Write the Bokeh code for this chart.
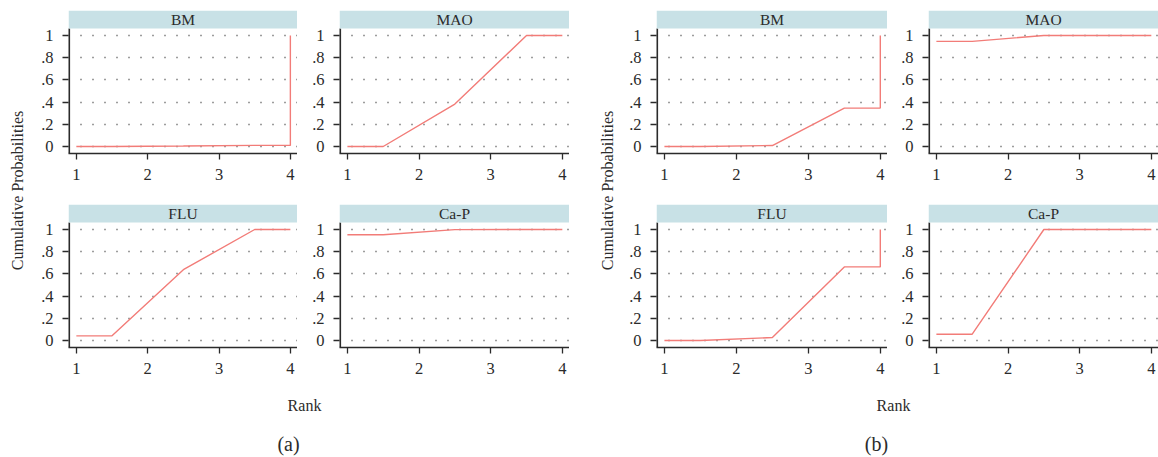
import math
from bokeh.plotting import figure
from bokeh.layouts import row, column
from bokeh.models import Range1d, FixedTicker, CustomJSTickFormatter, Label, BoxAnnotation
from bokeh.embed import file_html
from bokeh.resources import INLINE

# ---------------- data ----------------
ranks = [1, 2, 3, 4]
x_ticks = [1, 2, 3, 4]
y_ticks = [0, 0.2, 0.4, 0.6, 0.8, 1]
treatments = ["BM", "MAO", "FLU", "Ca-P"]

# cumulative ranking probabilities (rank 1..4), panel (a)
a_BM = [0.0, 0.004, 0.01, 1.0]
a_MAO = [0.0, 0.382, 1.0, 1.0]
a_FLU = [0.042, 0.638, 1.0, 1.0]
a_CaP = [0.953, 0.999, 1.0, 1.0]

# panel (b)
b_BM = [0.0, 0.009, 0.346, 1.0]
b_MAO = [0.947, 1.0, 1.0, 1.0]
b_FLU = [0.0, 0.027, 0.663, 1.0]
b_CaP = [0.057, 1.0, 1.0, 1.0]

y_title = "Cumulative Probabilities"
x_title = "Rank"
group_letters = ["(a)", "(b)"]

# ---------------- style ----------------
FONT = "Liberation Serif"
STRIP = "#c8e1e6"
LINE = "#f27c78"
AXIS = "#2b2b2b"
TXT = "#2b2b2b"
PAGE_H = 457
STRIP_H = 18
FRAME_H = 125
X_LO, X_HI = 0.89, 4.1
Y_LO, Y_HI = -0.063, 1.063
PX_PER_Y = FRAME_H / (Y_HI - Y_LO)
Y_STRIP = Y_HI + STRIP_H / PX_PER_Y


def base_fig(width, height, xr, yr, **kw):
    return figure(width=width, height=height, x_range=xr, y_range=yr,
                  output_backend="svg", toolbar_location=None, title=None,
                  outline_line_color=None, **kw)


def step_path(cum):
    xs = [ranks[0], ranks[0] + 0.5, ranks[1] + 0.5, ranks[2] + 0.5, ranks[3], ranks[3]]
    ys = [cum[0], cum[0], cum[1], cum[2], cum[2], cum[3]]
    return xs, ys


def panel_fig(name, cum, bl, fw, bt, bb):
    p = base_fig(bl + fw, bt + STRIP_H + FRAME_H + bb,
                 Range1d(X_LO, X_HI), Range1d(Y_LO, Y_STRIP),
                 min_border_left=bl, min_border_right=0,
                 min_border_top=bt, min_border_bottom=bb)
    p.xaxis.ticker = FixedTicker(ticks=x_ticks)
    p.yaxis.ticker = FixedTicker(ticks=y_ticks)
    p.yaxis.formatter = CustomJSTickFormatter(code="""
        if (Math.abs(tick) < 1e-9) return '0';
        if (Math.abs(tick - 1) < 1e-9) return '1';
        return tick.toFixed(1).replace('0.', '.');
    """)
    for ax in (p.xaxis, p.yaxis):
        ax.axis_line_color = AXIS
        ax.axis_line_width = 1.6
        ax.major_tick_line_color = AXIS
        ax.major_tick_line_width = 1.3
        ax.major_tick_out = 6
        ax.major_tick_in = 0
        ax.minor_tick_line_color = None
        ax.major_label_text_font = FONT
        ax.major_label_text_font_size = "16.5px"
        ax.major_label_text_color = TXT
    # the left axis line must stop below the strip: draw it as a segment
    p.yaxis.axis_line_color = None
    p.segment(x0=[X_LO], y0=[Y_LO], x1=[X_LO], y1=[Y_HI],
              line_color=AXIS, line_width=3.2)
    p.yaxis.major_label_standoff = 9
    p.xaxis.major_label_standoff = 9
    p.xgrid.visible = False
    p.ygrid.grid_line_color = "#3a3a3a"
    p.ygrid.grid_line_width = 1.3
    p.ygrid.grid_line_dash = "1 11"
    xs, ys = step_path(cum)
    p.line(xs, ys, line_color=LINE, line_width=1.4)
    # facet strip
    p.add_layout(BoxAnnotation(bottom=Y_HI, fill_color=STRIP, fill_alpha=1.0,
                               line_color=None, level="overlay"))
    p.add_layout(Label(x=(X_LO + X_HI) / 2, y=(Y_HI + Y_STRIP) / 2, text=name,
                       text_align="center", text_baseline="middle",
                       text_font=FONT, text_font_style="normal",
                       text_font_size="15.5px", text_color=TXT, level="overlay"))
    return p


def label_fig(width, height):
    f = base_fig(width, height, Range1d(0, width), Range1d(height, 0),
                 x_axis_location=None, y_axis_location=None,
                 min_border_left=0, min_border_right=0,
                 min_border_top=0, min_border_bottom=0)
    f.grid.visible = False
    return f


def group(vals, yt_w, yt_x, bl1, fw1, bl2, fw2, rank_x, letter_x, letter):
    yt = label_fig(yt_w, PAGE_H)
    yt.add_layout(Label(x=yt_x, y=190, text=y_title, angle=math.pi / 2,
                        text_align="center", text_baseline="middle",
                        text_font=FONT, text_font_size="16px", text_color=TXT))
    r1 = row(panel_fig(treatments[0], vals[0], bl1, fw1, 10, 51),
             panel_fig(treatments[1], vals[1], bl2, fw2, 10, 51))
    r2 = row(panel_fig(treatments[2], vals[2], bl1, fw1, 0, 40),
             panel_fig(treatments[3], vals[3], bl2, fw2, 0, 40))
    bot_h = PAGE_H - (10 + STRIP_H + FRAME_H + 51 + STRIP_H + FRAME_H + 40)
    bot = label_fig(bl1 + fw1 + bl2 + fw2, bot_h)
    bot.add_layout(Label(x=rank_x, y=405 - (PAGE_H - bot_h), text=x_title,
                         text_align="center", text_baseline="middle",
                         text_font=FONT, text_font_size="16px", text_color=TXT))
    bot.add_layout(Label(x=letter_x, y=443 - (PAGE_H - bot_h), text=letter,
                         text_align="center", text_baseline="middle",
                         text_font=FONT, text_font_size="20px", text_color=TXT))
    return row(yt, column(r1, r2, bot))


gA = group([a_BM, a_MAO, a_FLU, a_CaP], 30, 17, 38, 229, 42, 230,
           304 - 30, 288 - 30, group_letters[0])
gB = group([b_BM, b_MAO, b_FLU, b_CaP], 56, 38, 31, 231, 41, 230,
           893 - 625, 876 - 625, group_letters[1])

layout = row(gA, gB)
open("out.html", "w").write(file_html(layout, INLINE))
